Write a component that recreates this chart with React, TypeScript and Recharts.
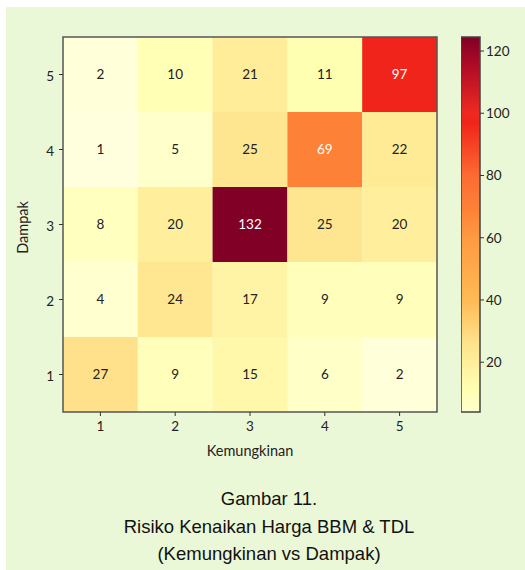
import { ScatterChart, Scatter, XAxis, YAxis, ReferenceArea } from "recharts";

// Kemungkinan (x) 1..5, Dampak (y) 1..5
const kemungkinan = [1, 2, 3, 4, 5];
const dampak5 = [2, 10, 21, 11, 97];
const dampak4 = [1, 5, 25, 69, 22];
const dampak3 = [8, 20, 132, 25, 20];
const dampak2 = [4, 24, 17, 9, 9];
const dampak1 = [27, 9, 15, 6, 2];
const colorbarTicks = [20, 40, 60, 80, 100, 120];
const colorMin = 4;
const colorMax = 124.5;

const rows = [
  { d: 1, values: dampak1 },
  { d: 2, values: dampak2 },
  { d: 3, values: dampak3 },
  { d: 4, values: dampak4 },
  { d: 5, values: dampak5 },
];

const cells = rows.flatMap((r) =>
  r.values.map((v, i) => ({ x: kemungkinan[i], y: r.d, v }))
);

// YlOrRd-like stops
const stops: [number, string][] = [
  [0, "#ffffe2"],
  [5, "#ffffcc"],
  [11, "#ffffb2"],
  [17, "#fff4a6"],
  [22, "#ffeb96"],
  [27, "#fee18a"],
  [40, "#feba55"],
  [60, "#fd9a42"],
  [69, "#fd8238"],
  [80, "#fc6b33"],
  [97, "#f0241a"],
  [100, "#ee2a20"],
  [115, "#b00c26"],
  [124.5, "#800026"],
];

const hex = (c: string) => [1, 3, 5].map((i) => parseInt(c.slice(i, i + 2), 16));

const colorOf = (v: number) => {
  if (v <= stops[0][0]) return stops[0][1];
  for (let i = 1; i < stops.length; i++) {
    if (v <= stops[i][0]) {
      const [v0, c0] = stops[i - 1];
      const [v1, c1] = stops[i];
      const t = (v - v0) / (v1 - v0);
      const a = hex(c0);
      const b = hex(c1);
      const m = a.map((x, k) => Math.round(x + (b[k] - x) * t));
      return `rgb(${m[0]},${m[1]},${m[2]})`;
    }
  }
  return stops[stops.length - 1][1];
};

const font = "Lato, 'Noto Sans', sans-serif";
const tickStyle = { fontSize: 13.5, fill: "#222", fontFamily: font };

const App = () => {
  return (
    <div
      style={{
        position: "absolute",
        left: 6,
        top: 7,
        width: 519,
        height: 563,
        background: "#ebf8d7",
      }}
    >
      <div style={{ position: "absolute", left: 0, top: 0 }}>
        <ScatterChart width={440} height={460} margin={{ top: 30, right: 9, bottom: 10, left: 0 }}>
          <XAxis
            type="number"
            dataKey="x"
            domain={[0.5, 5.5]}
            ticks={kemungkinan}
            allowDataOverflow
            axisLine={false}
            tickSize={4}
            tickMargin={5}
            tickLine={{ stroke: "#333" }}
            tick={tickStyle}
            height={45}
            label={{
              content: (p: any) => (
                <text
                  x={p.viewBox.x + p.viewBox.width / 2}
                  y={p.viewBox.y + 38}
                  textAnchor="middle"
                  dominantBaseline="central"
                  fontSize={14.5}
                  fontFamily={font}
                  fill="#222"
                >
                  Kemungkinan
                </text>
              ),
            }}
          />
          <YAxis
            type="number"
            dataKey="y"
            domain={[0.5, 5.5]}
            ticks={[1, 2, 3, 4, 5]}
            allowDataOverflow
            axisLine={false}
            tickSize={4}
            tickMargin={5}
            tickLine={{ stroke: "#333" }}
            tick={{ ...tickStyle, dy: 2 }}
            width={57}
            label={{
              content: (p: any) => {
                const cy = p.viewBox.y + p.viewBox.height / 2 + 3;
                return (
                  <text
                    x={16}
                    y={cy}
                    transform={`rotate(-90, 16, ${cy})`}
                    textAnchor="middle"
                    dominantBaseline="central"
                    fontSize={14.5}
                    fontFamily={font}
                    fill="#222"
                  >
                    Dampak
                  </text>
                );
              },
            }}
          />
          {cells.map((c) => (
            <ReferenceArea
              key={`${c.x}-${c.y}`}
              x1={c.x - 0.5}
              x2={c.x + 0.5}
              y1={c.y - 0.5}
              y2={c.y + 0.5}
              fill={colorOf(c.v)}
              fillOpacity={1}
              stroke="none"
              ifOverflow="visible"
              label={{
                value: String(c.v),
                position: "center",
                fill: c.v > 60 ? "#ffffff" : "#222222",
                fontSize: 13.5,
                fontFamily: font,
              }}
            />
          ))}
          <ReferenceArea
            x1={0.5}
            x2={5.5}
            y1={0.5}
            y2={5.5}
            fill="none"
            stroke="#555"
            strokeWidth={1.5}
            ifOverflow="visible"
          />
          <Scatter data={cells} fill="none" isAnimationActive={false} />
        </ScatterChart>
      </div>
      <div style={{ position: "absolute", left: 455, top: 0 }}>
        <ScatterChart width={64} height={460} margin={{ top: 30, right: 0, bottom: 55, left: 0 }}>
          <defs>
            <linearGradient id="cbar" x1="0" y1="0" x2="0" y2="1">
              {stops
                .filter((s) => s[0] >= colorMin)
                .slice()
                .reverse()
                .map((s) => (
                  <stop
                    key={s[0]}
                    offset={(colorMax - s[0]) / (colorMax - colorMin)}
                    stopColor={s[1]}
                  />
                ))}
              <stop offset={1} stopColor={colorOf(colorMin)} />
            </linearGradient>
          </defs>
          <XAxis type="number" dataKey="x" domain={[0, 1]} hide />
          <YAxis
            type="number"
            dataKey="y"
            orientation="right"
            domain={[colorMin, colorMax]}
            ticks={colorbarTicks}
            allowDataOverflow
            axisLine={false}
            tickSize={4}
            tickMargin={2}
            tickLine={{ stroke: "#333" }}
            tick={tickStyle}
            width={45}
          />
          <ReferenceArea
            x1={0}
            x2={1}
            y1={colorMin}
            y2={colorMax}
            fill="url(#cbar)"
            fillOpacity={1}
            stroke="#444"
            strokeWidth={1.5}
            ifOverflow="visible"
          />
          <Scatter data={[{ x: 0.5, y: 50 }]} fill="none" isAnimationActive={false} />
        </ScatterChart>
      </div>
      <div
        style={{
          position: "absolute",
          left: 2,
          width: 522,
          top: 478,
          textAlign: "center",
          fontFamily: "'Liberation Sans', Arial, sans-serif",
          fontSize: 18.5,
          lineHeight: "27.5px",
          color: "#111",
        }}
      >
        <div>Gambar 11.</div>
        <div>Risiko Kenaikan Harga BBM &amp; TDL</div>
        <div>(Kemungkinan vs Dampak)</div>
      </div>
    </div>
  );
};

export default App;
